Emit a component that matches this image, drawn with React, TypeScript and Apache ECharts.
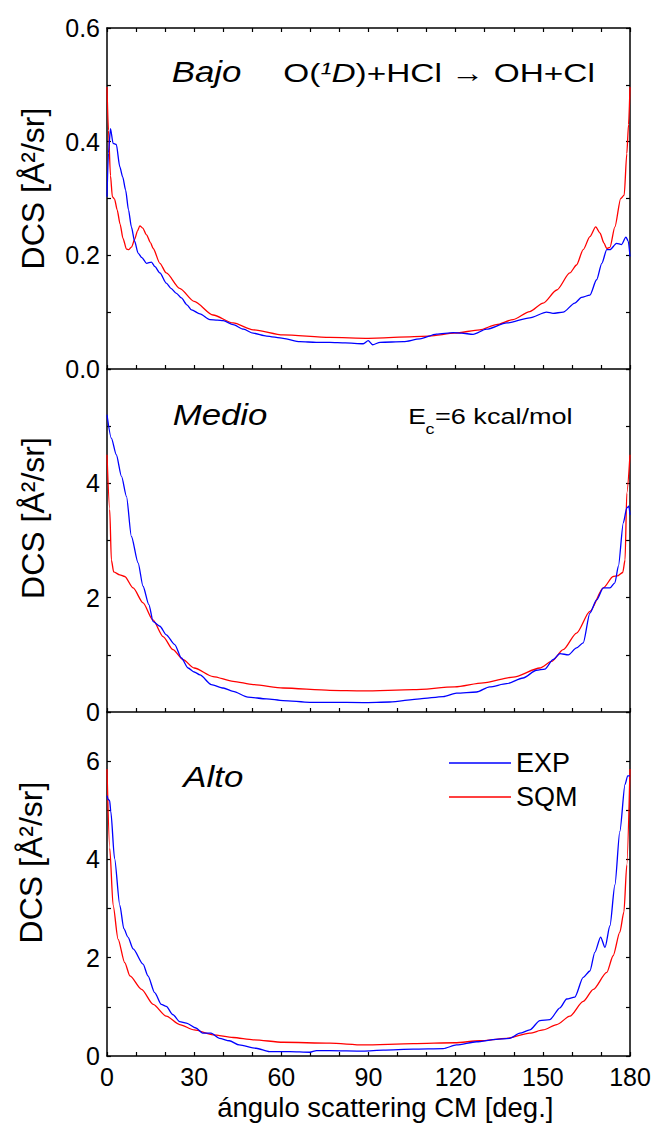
import React, { useEffect, useRef } from "react";
import * as echarts from "echarts";

const FONT = '"Liberation Sans", Arial, Helvetica, sans-serif';

// Scattering angle ticks (deg.)
const angleTicks = [0, 30, 60, 90, 120, 150, 180];

// --- Bajo ---
const bajoExpAngle = [0, 0.5, 1.2, 2.1, 3.2, 4.4, 5.4, 6.4, 7.4, 8.4, 9.5, 10.7, 12, 13.6, 15.3, 16.5, 18.2, 20.4, 22, 23.9, 25.6, 27.5, 29.1, 32, 35.4, 38, 40, 43.4, 47, 50.3, 54.9, 60.6, 66.4, 72, 76.7, 82, 88.2, 89.9, 91.4, 94, 102, 107.7, 113.4, 119.2, 122, 126, 130.6, 137.6, 145.5, 151.3, 153.5, 157, 161, 163.3, 166.2, 168.5, 170.3, 172, 173.1, 175.4, 177.1, 178.6, 179.4, 180];
const bajoExpDcs = [0.303, 0.38, 0.423, 0.397, 0.395, 0.356, 0.338, 0.315, 0.28, 0.25, 0.225, 0.204, 0.196, 0.186, 0.188, 0.18, 0.169, 0.151, 0.142, 0.133, 0.125, 0.113, 0.104, 0.097, 0.087, 0.086, 0.085, 0.078, 0.07, 0.063, 0.058, 0.054, 0.048, 0.047, 0.047, 0.046, 0.0444, 0.05, 0.0427, 0.047, 0.048, 0.053, 0.0615, 0.064, 0.063, 0.061, 0.07, 0.081, 0.09, 0.1, 0.098, 0.1, 0.116, 0.126, 0.13, 0.157, 0.186, 0.21, 0.21, 0.221, 0.219, 0.232, 0.225, 0.198];
const bajoSqmAngle = [0, 0.5, 1.2, 1.85, 2.6, 3.5, 4.5, 5.5, 6.7, 7.5, 8.5, 9.5, 10.5, 11.3, 12.3, 13.6, 15, 15.9, 18.2, 20.4, 25, 30, 36.5, 43.4, 50.3, 60.6, 76.7, 90, 111, 119.7, 128.3, 134, 139.8, 145.5, 150.1, 154.8, 159.3, 161.6, 163.9, 166.2, 168.2, 169.7, 171, 172, 173.1, 174.8, 176.8, 178, 178.9, 179.5, 180];
const bajoSqmDcs = [0.496, 0.42, 0.34, 0.303, 0.299, 0.28, 0.255, 0.23, 0.211, 0.21, 0.215, 0.228, 0.243, 0.252, 0.248, 0.236, 0.222, 0.212, 0.186, 0.169, 0.142, 0.119, 0.095, 0.081, 0.069, 0.06, 0.0555, 0.054, 0.058, 0.063, 0.069, 0.078, 0.087, 0.101, 0.116, 0.139, 0.169, 0.183, 0.21, 0.233, 0.25, 0.239, 0.222, 0.212, 0.214, 0.25, 0.3, 0.306, 0.379, 0.43, 0.496];

// --- Medio ---
const medioExpAngle = [0, 1.5, 3.2, 5, 6.7, 8.4, 10.7, 12.4, 14.4, 15.9, 18.2, 20.4, 23.3, 25.6, 27.9, 30, 32, 35.9, 40, 43.4, 48.5, 54.9, 60.6, 69.8, 76.7, 88.2, 97.3, 107.7, 115.7, 120.3, 127.2, 131.7, 137.5, 143.2, 147.8, 150.7, 153.5, 155.9, 158.8, 161.6, 163.9, 166.2, 168.5, 170.8, 173.1, 174.8, 176, 177.7, 178.9, 179.6, 180];
const medioExpDcs = [5.2, 4.79, 4.5, 4.12, 3.77, 3.07, 2.61, 2.2, 1.88, 1.58, 1.5, 1.35, 1.18, 0.945, 0.77, 0.7, 0.65, 0.48, 0.42, 0.36, 0.26, 0.23, 0.2, 0.17, 0.17, 0.165, 0.175, 0.23, 0.27, 0.33, 0.35, 0.44, 0.495, 0.595, 0.73, 0.75, 0.915, 1.02, 1.0, 1.12, 1.21, 1.73, 1.96, 2.17, 2.17, 2.26, 2.55, 3.31, 3.57, 3.6, 3.45];
const medioSqmAngle = [0, 0.94, 1.5, 2.3, 4.4, 6.1, 9, 12.4, 15.8, 19.3, 22.7, 26.2, 30, 36.5, 43.4, 50.3, 60.6, 76.7, 88.2, 105.4, 119.7, 129.5, 139.8, 149, 153, 157, 161.6, 166.2, 170.8, 174.2, 175.6, 177.5, 178.3, 178.9, 180];
const medioSqmDcs = [4.5, 3.54, 2.66, 2.45, 2.4, 2.37, 2.17, 1.91, 1.61, 1.32, 1.09, 0.915, 0.77, 0.62, 0.535, 0.48, 0.42, 0.38, 0.37, 0.39, 0.44, 0.51, 0.61, 0.77, 0.885, 1.09, 1.38, 1.76, 2.17, 2.37, 2.38, 2.44, 2.66, 3.83, 4.5];

// --- Alto ---
const altoExpAngle = [0, 0.4, 0.9, 1.3, 2.6, 4.4, 5.8, 7.2, 9, 12.4, 14.1, 16.4, 18.7, 20.4, 22.7, 25, 27.3, 30.6, 32.9, 35.8, 38.7, 42.1, 45.5, 51.3, 55.9, 62.9, 69.8, 72.1, 76.7, 88.2, 95.1, 105.4, 115.7, 120.3, 127.2, 134, 138.6, 142.1, 145.5, 149, 152.4, 155.9, 158.2, 161, 163.9, 166.2, 167.9, 169.9, 171.4, 173.1, 174.8, 176.5, 178.3, 179.2, 180];
const altoExpDcs = [5.3, 5.22, 5.2, 4.98, 4.02, 3.07, 2.59, 2.42, 2.18, 1.87, 1.63, 1.29, 1.05, 1.01, 0.84, 0.7, 0.67, 0.57, 0.465, 0.465, 0.36, 0.31, 0.225, 0.158, 0.088, 0.088, 0.076, 0.11, 0.11, 0.1, 0.12, 0.14, 0.15, 0.226, 0.29, 0.34, 0.36, 0.466, 0.53, 0.72, 0.74, 0.98, 1.16, 1.2, 1.6, 1.73, 2.11, 2.42, 2.21, 2.65, 3.48, 4.57, 5.53, 5.7, 5.7];
const altoSqmAngle = [0, 0.94, 2.1, 3.8, 6.1, 7.9, 11.9, 15.9, 20.4, 25, 30, 36.5, 43.4, 50.3, 60.6, 76.7, 88.2, 105.4, 119.7, 128.3, 137.6, 145.5, 150.1, 154.8, 159.3, 163.9, 167.4, 172, 174.2, 176.5, 177.9, 178.9, 180];
const altoSqmDcs = [5.84, 4.23, 3.07, 2.38, 1.9, 1.63, 1.355, 1.05, 0.81, 0.64, 0.53, 0.43, 0.376, 0.33, 0.28, 0.26, 0.226, 0.25, 0.27, 0.31, 0.36, 0.466, 0.53, 0.64, 0.81, 1.11, 1.355, 1.7, 2.04, 2.52, 2.93, 3.89, 5.84];

// Labelled y ticks per panel
const bajoTicks = [0, 0.2, 0.4, 0.6];
const medioTicks = [0, 2, 4];
const altoTicks = [0, 2, 4, 6];

const zip = (a: number[], v: number[]) => a.map((x, i) => [x, v[i]]);

const BLACK = "#000";

export default function App() {
  const ref = useRef<HTMLDivElement>(null);

  useEffect(() => {
    const chart = echarts.init(ref.current!, null, { renderer: "svg" });

    const grids = [
      { top: 28, height: 341 },
      { top: 369, height: 343 },
      { top: 712, height: 344 },
    ].map((g) => ({ left: 107, width: 523, ...g }));

    const axisLine = { show: true, onZero: false, lineStyle: { color: BLACK, width: 1.5 } };
    const axisTick = { show: true, inside: true, length: 4, lineStyle: { color: BLACK, width: 1.2 } };
    const labelStyle = { color: BLACK, fontSize: 25, fontFamily: FONT };

    const xAxis: any[] = [0, 1, 2].map((i) => ({
      type: "value",
      gridIndex: i,
      position: "bottom",
      min: 0,
      max: 180,
      interval: 10,
      axisLine,
      axisTick,
      splitLine: { show: false },
      axisLabel: {
        show: i === 2,
        ...labelStyle,
        margin: 8,
        formatter: (v: number) => (angleTicks.includes(v) ? String(v) : ""),
      },
    }));
    // mirrored ticks on top of the first panel
    xAxis.push({
      type: "value",
      gridIndex: 0,
      position: "top",
      min: 0,
      max: 180,
      interval: 10,
      axisLine,
      axisTick,
      splitLine: { show: false },
      axisLabel: { show: false },
    });

    const yRanges = [
      { max: 0.6, interval: 0.1, labels: bajoTicks, fmt: (v: number) => v.toFixed(1) },
      { max: 6, interval: 1, labels: medioTicks, fmt: (v: number) => String(v) },
      { max: 7, interval: 1, labels: altoTicks, fmt: (v: number) => String(v) },
    ];

    const yAxis: any[] = [];
    yRanges.forEach((r, i) => {
      yAxis.push({
        type: "value",
        gridIndex: i,
        position: "left",
        min: 0,
        max: r.max,
        interval: r.interval,
        axisLine,
        axisTick,
        splitLine: { show: false },
        axisLabel: {
          ...labelStyle,
          margin: 7,
          formatter: (v: number) =>
            r.labels.some((l) => Math.abs(l - v) < 1e-6) ? r.fmt(v) : "",
        },
      });
    });
    yRanges.forEach((r, i) => {
      yAxis.push({
        type: "value",
        gridIndex: i,
        position: "right",
        min: 0,
        max: r.max,
        interval: r.interval,
        axisLine,
        axisTick,
        splitLine: { show: false },
        axisLabel: { show: false },
      });
    });

    const panels = [
      { exp: zip(bajoExpAngle, bajoExpDcs), sqm: zip(bajoSqmAngle, bajoSqmDcs) },
      { exp: zip(medioExpAngle, medioExpDcs), sqm: zip(medioSqmAngle, medioSqmDcs) },
      { exp: zip(altoExpAngle, altoExpDcs), sqm: zip(altoSqmAngle, altoSqmDcs) },
    ];

    const series: any[] = [];
    panels.forEach((p, i) => {
      series.push({
        name: "SQM",
        type: "line",
        xAxisIndex: i,
        yAxisIndex: i,
        data: p.sqm,
        symbol: "none",
        smooth: 0.25,
        smoothMonotone: "x",
        lineStyle: { color: "#ff0000", width: 1.3 },
        itemStyle: { color: "#ff0000" },
      });
      series.push({
        name: "EXP",
        type: "line",
        xAxisIndex: i,
        yAxisIndex: i,
        data: p.exp,
        symbol: "none",
        smooth: 0.25,
        smoothMonotone: "x",
        lineStyle: { color: "#0000ff", width: 1.3 },
        itemStyle: { color: "#0000ff" },
      });
    });

    const txt = (
      text: string,
      x: number,
      y: number,
      size: number,
      extra: any = {},
      styleExtra: any = {}
    ) => ({
      type: "text",
      x,
      y,
      silent: true,
      ...extra,
      style: {
        text,
        fill: BLACK,
        fontSize: size,
        fontFamily: FONT,
        align: "left",
        verticalAlign: "middle",
        ...styleExtra,
      },
    });

    const SX = 1.2;
    const yName = "DCS [Å²/sr]";

    const graphic = [
      txt("Bajo", 171.7, 72, 29, { scaleX: SX }, { fontStyle: "italic" }),
      txt("Medio", 172.7, 415, 29, { scaleX: SX }, { fontStyle: "italic" }),
      txt("Alto", 183.3, 777, 29, { scaleX: SX }, { fontStyle: "italic" }),
      {
        type: "text",
        x: 283.3,
        y: 73,
        scaleX: 1.26,
        silent: true,
        style: {
          text: "{n|O(}{i|¹D}{n|)+HCl → OH+Cl}",
          fill: BLACK,
          align: "left",
          verticalAlign: "middle",
          rich: {
            n: { fontSize: 26.5, fontFamily: FONT, fill: BLACK },
            i: { fontSize: 26.5, fontFamily: FONT, fontStyle: "italic", fill: BLACK },
          },
        },
      },
      txt("E", 408.3, 416, 22, { scaleX: SX }),
      txt("c", 425.5, 429, 15, { scaleX: SX }),
      txt("=6 kcal/mol", 435, 416, 22, { scaleX: 1.23 }),
      txt(yName, 32.5, 188.5, 32, { rotation: Math.PI / 2 }, { align: "center" }),
      txt(yName, 32.5, 518, 32, { rotation: Math.PI / 2 }, { align: "center" }),
      txt(yName, 31, 862.5, 32, { rotation: Math.PI / 2 }, { align: "center" }),
      txt("ángulo scattering CM [deg.]", 385.3, 1107, 27.5, {}, { align: "center" }),
    ];

    chart.setOption({
      animation: false,
      backgroundColor: "#ffffff",
      textStyle: { fontFamily: FONT },
      grid: grids,
      xAxis,
      yAxis,
      series,
      legend: {
        data: ["EXP", "SQM"],
        orient: "vertical",
        left: 444,
        top: 743,
        icon: "rect",
        itemWidth: 62,
        itemHeight: 1.4,
        itemGap: 4,
        selectedMode: false,
        textStyle: {
          color: BLACK,
          fontSize: 27,
          lineHeight: 30,
          fontFamily: FONT,
        },
      },
      graphic,
    });

    return () => chart.dispose();
  }, []);

  return (
    <div
      ref={ref}
      style={{ position: "absolute", left: 0, top: 0, width: 657, height: 1125 }}
    />
  );
}
